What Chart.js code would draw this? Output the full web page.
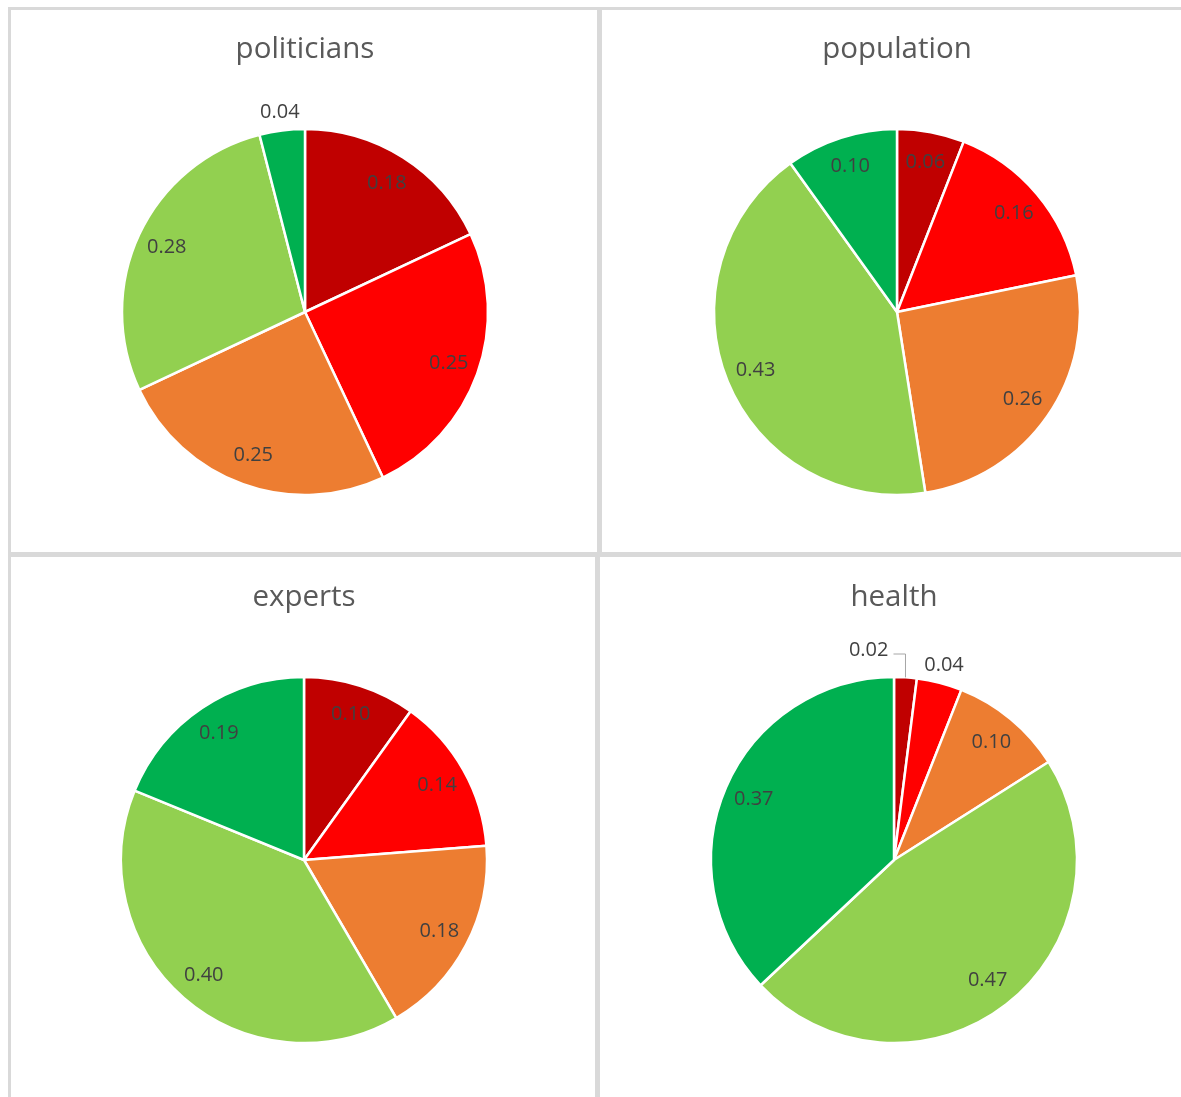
<!DOCTYPE html>
<html>
<head>
<meta charset="utf-8">
<script src="https://cdn.jsdelivr.net/npm/chart.js@4.4.1/dist/chart.umd.min.js"></script>
<style>
  html, body { margin: 0; padding: 0; background: #fff; }
  body { width: 1181px; height: 1097px; position: relative; overflow: hidden; }
  .panel { position: absolute; box-sizing: border-box; border: 3px solid #d9d9d9; }
  canvas { position: absolute; }
</style>
</head>
<body>
<div class="panel" style="left:8px;top:7px;width:592px;height:548px"></div>
<div class="panel" style="left:599px;top:7px;width:600px;height:548px"></div>
<div class="panel" style="left:8px;top:554px;width:590px;height:560px"></div>
<div class="panel" style="left:597px;top:554px;width:600px;height:560px"></div>

<canvas id="chart0" width="586" height="542" style="left:11px;top:10px"></canvas>
<canvas id="chart1" width="578" height="542" style="left:603px;top:10px"></canvas>
<canvas id="chart2" width="584" height="539" style="left:11px;top:558px"></canvas>
<canvas id="chart3" width="580" height="539" style="left:601px;top:558px"></canvas>

<script>
// categories go from worst (dark red) to best (green)
const categories = ["very low", "low", "medium", "high", "very high"];
const titles = ["politicians", "population", "experts", "health"];

const politicians = [0.18, 0.25, 0.25, 0.28, 0.04];
const population = [0.06, 0.16, 0.26, 0.43, 0.10];
const experts = [0.10, 0.14, 0.18, 0.40, 0.19];
const health = [0.02, 0.04, 0.10, 0.47, 0.37];

const sliceColors = ["#C00000", "#FF0000", "#ED7D31", "#92D050", "#00B050"];

const TITLE_SIZE = 29.5;
const LABEL_SIZE = 20;
const PIE_RADIUS = 183;

Chart.defaults.font.family = "'Open Sans', 'Liberation Sans', sans-serif";

// labels drawn on top of the slices, small slices go outside
const pieLabelPlugin = {
  id: "pieLabels",
  afterDatasetsDraw(chart) {
    const { ctx } = chart;
    const meta = chart.getDatasetMeta(0);
    const values = chart.data.datasets[0].data;

    const labels = meta.data.map((arc, i) => {
      const p = arc.getProps(["x", "y", "startAngle", "endAngle", "outerRadius"], true);
      const mid = (p.startAngle + p.endAngle) / 2;
      const inside = values[i] >= 0.05;
      const r = inside ? p.outerRadius * 0.835 : p.outerRadius + 18;
      return {
        cx: p.x,
        cy: p.y,
        R: p.outerRadius,
        mid,
        inside,
        leader: false,
        lx: p.x + Math.cos(mid) * r,
        ly: p.y + Math.sin(mid) * r,
        text: values[i].toFixed(2)
      };
    });

    // outside labels that crowd the next one get pushed left with a leader line
    for (let i = 0; i < labels.length - 1; i++) {
      const a = labels[i];
      const b = labels[i + 1];
      if (a.inside || b.inside) continue;
      if (Math.hypot(a.lx - b.lx, a.ly - b.ly) < 50) {
        a.leader = true;
      }
    }

    ctx.save();
    ctx.font = `${LABEL_SIZE}px 'Open Sans', 'Liberation Sans', sans-serif`;
    ctx.fillStyle = "#404040";
    ctx.textBaseline = "middle";

    labels.forEach((l) => {
      if (l.leader) {
        const ax = l.cx + Math.cos(l.mid) * l.R;
        const ay = l.cy + Math.sin(l.mid) * l.R;
        const elbowY = l.cy - l.R - 23;
        const endX = ax - 12;
        ctx.beginPath();
        ctx.strokeStyle = "#a6a6a6";
        ctx.lineWidth = 1;
        ctx.moveTo(ax, ay);
        ctx.lineTo(ax, elbowY);
        ctx.lineTo(endX, elbowY);
        ctx.stroke();
        ctx.textAlign = "right";
        ctx.fillText(l.text, endX - 5, elbowY - 4);
      } else {
        ctx.textAlign = "center";
        ctx.fillText(l.text, l.lx, l.ly);
      }
    });
    ctx.restore();
  }
};

function buildPie(canvasId, title, values, center, titleMid) {
  const canvas = document.getElementById(canvasId);
  const w = canvas.width;
  const h = canvas.height;

  // place the title and the pie centre where they sit in the picture
  const lineH = TITLE_SIZE * 1.2;
  const titlePadTop = titleMid - lineH / 2;
  const titlePadBottom = 20;
  const areaTop = titlePadTop + lineH + titlePadBottom;
  const areaBottom = 2 * center.y - areaTop;
  const padLeft = Math.max(0, 2 * center.x - w);
  const padRight = Math.max(0, w - 2 * center.x);

  return new Chart(canvas, {
    type: "pie",
    data: {
      labels: categories,
      datasets: [
        {
          data: values,
          backgroundColor: sliceColors,
          borderColor: "#ffffff",
          borderWidth: 2.5,
          radius: PIE_RADIUS
        }
      ]
    },
    options: {
      responsive: false,
      animation: false,
      events: [],
      devicePixelRatio: 1,
      layout: {
        padding: { top: 0, left: padLeft, right: padRight, bottom: h - areaBottom }
      },
      plugins: {
        legend: { display: false },
        tooltip: { enabled: false },
        title: {
          display: true,
          text: title,
          color: "#595959",
          font: { size: TITLE_SIZE, weight: "normal" },
          padding: { top: titlePadTop, bottom: titlePadBottom }
        }
      }
    },
    plugins: [pieLabelPlugin]
  });
}

buildPie("chart0", titles[0], politicians, { x: 294, y: 302 }, 40);
buildPie("chart1", titles[1], population, { x: 294, y: 302 }, 40);
buildPie("chart2", titles[2], experts, { x: 293, y: 302 }, 40);
buildPie("chart3", titles[3], health, { x: 293, y: 302 }, 40);
</script>
</body>
</html>
